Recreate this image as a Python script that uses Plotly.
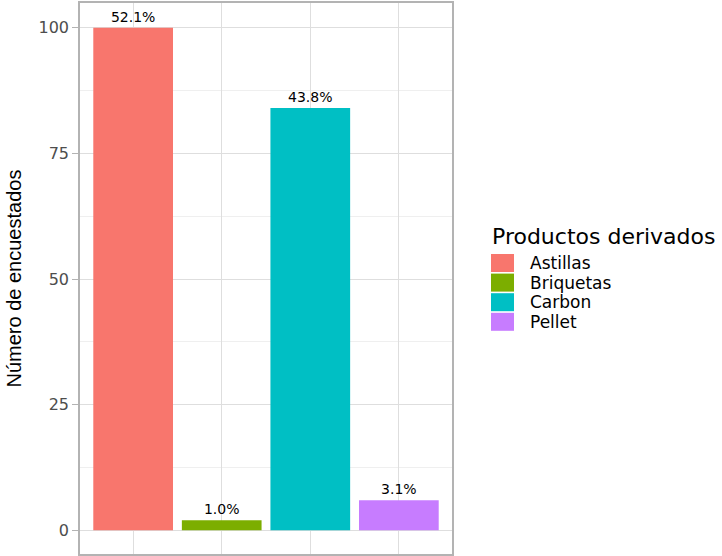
import plotly.graph_objects as go

categories = ["Astillas", "Briquetas", "Carbon", "Pellet"]
counts = [100, 2, 84, 6]
labels = ["52.1%", "1.0%", "43.8%", "3.1%"]
colors = ["#F8766D", "#7CAE00", "#00BFC4", "#C77CFF"]
y_ticks = [0, 25, 50, 75, 100]

W, H = 722, 556
L, R, T, B = 80, 270, 3, 2
PW, PH = W - L - R, H - T - B


def px_x(p):
    return (p - L) / PW


def px_y(p):
    return (H - B - p) / PH


fig = go.Figure()
for i, (c, v, l, col) in enumerate(zip(categories, counts, labels, colors)):
    fig.add_trace(go.Bar(
        x=[i + 1], y=[v], name=c, marker=dict(color=col, line=dict(width=0)),
        width=0.9, text=[l], textposition="outside",
        textfont=dict(size=14, color="black", family="DejaVu Sans"),
        cliponaxis=False, showlegend=False,
    ))

# legend (drawn manually to match large ggplot-style keys)
ann = [dict(text="Productos derivados", x=px_x(490), y=px_y(236), xref="paper", yref="paper",
            xanchor="left", yanchor="middle", showarrow=False,
            font=dict(size=22, color="black", family="DejaVu Sans"))]
shapes = []
for k, (c, col) in enumerate(zip(categories, colors)):
    yc = 263 + k * 19.6
    shapes.append(dict(type="rect", xref="paper", yref="paper",
                       x0=px_x(491), x1=px_x(514), y0=px_y(yc - 9), y1=px_y(yc + 9),
                       fillcolor=col, line=dict(width=0)))
    ann.append(dict(text=c, x=px_x(528), y=px_y(yc), xref="paper", yref="paper",
                    xanchor="left", yanchor="middle", showarrow=False,
                    font=dict(size=17, color="black", family="DejaVu Sans")))
ann.append(dict(text="Número de encuestados", x=px_x(13), y=0.5, xref="paper", yref="paper",
                xanchor="center", yanchor="middle", showarrow=False, textangle=-90,
                font=dict(size=20, color="black", family="Liberation Sans")))

fig.update_layout(
    width=W, height=H,
    margin=dict(l=L, r=R, t=T, b=B, autoexpand=False),
    plot_bgcolor="white", paper_bgcolor="white",
    font=dict(family="DejaVu Sans", color="#4D4D4D"),
    showlegend=False,
    annotations=ann, shapes=shapes,
)
fig.update_xaxes(
    range=[0.4, 4.6], tickvals=[1, 2, 3, 4], ticktext=["", "", "", ""],
    showgrid=True, gridcolor="#DEDEDE", gridwidth=1,
    ticks="outside", ticklen=4, tickcolor="#B3B3B3",
    showline=True, linecolor="#B3B3B3", linewidth=1.5, mirror=True, zeroline=False,
    automargin=False,
)
fig.update_yaxes(
    range=[-4.7, 104.9], tickvals=y_ticks,
    showgrid=True, gridcolor="#DEDEDE", gridwidth=1,
    minor=dict(tickvals=[12.5, 37.5, 62.5, 87.5], showgrid=True, gridcolor="#EFEFEF", gridwidth=0.8),
    ticks="outside", ticklen=6, tickcolor="#B3B3B3",
    tickfont=dict(size=16, color="#4D4D4D", family="DejaVu Sans"),
    showline=True, linecolor="#B3B3B3", linewidth=1.5, mirror=True, zeroline=False,
    automargin=False,
)
fig.write_html("out.html", config={"displayModeBar": False},
               post_script="document.body.style.margin='0';document.body.style.overflow='hidden';")
